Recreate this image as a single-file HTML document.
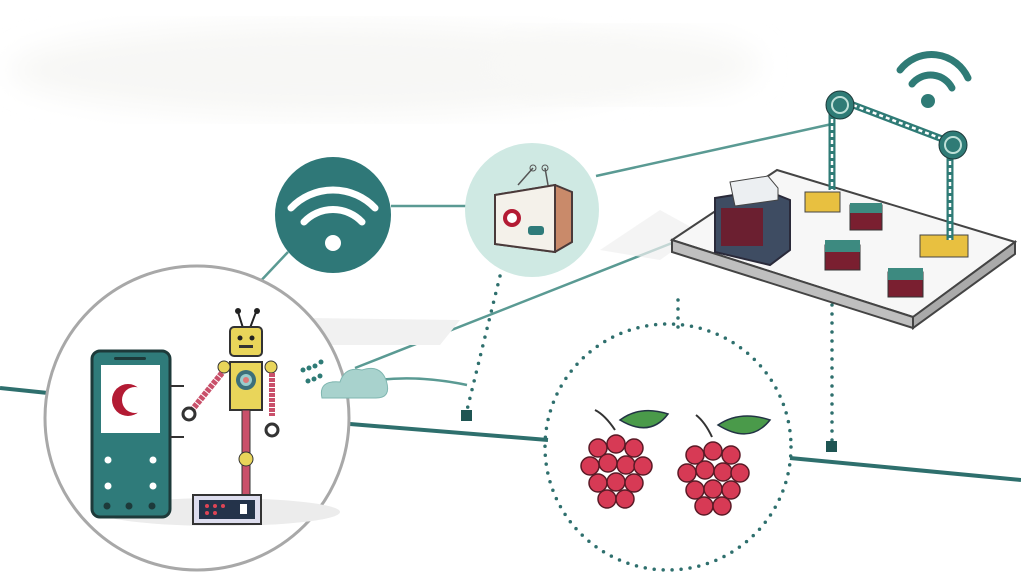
<!DOCTYPE html>
<html><head><style>html,body{margin:0;padding:0;background:#fff;overflow:hidden}svg{display:block}</style></head>
<body>
<svg width="1021" height="575" viewBox="0 0 1021 575" xmlns="http://www.w3.org/2000/svg">
<defs><filter id="b"><feGaussianBlur stdDeviation="14"/></filter></defs>
<rect width="1021" height="575" fill="#fff"/>
<ellipse cx="330" cy="70" rx="320" ry="45" fill="#f7f7f5" filter="url(#b)"/>
<ellipse cx="620" cy="65" rx="140" ry="35" fill="#f8f8f6" filter="url(#b)"/>
<!-- main line -->
<g stroke="#2e6f6d" stroke-width="4" fill="none">
<path d="M0 388 L48 393"/><path d="M350 424 L548 440"/><path d="M790 458 L1021 480"/>
</g>
<g stroke="#5a9a93" stroke-width="2.5" fill="none">
<path d="M255 287 L288 252"/><path d="M391 206 L466 206"/><path d="M596 176 L832 124"/>
<path d="M355 368 L700 232"/><path d="M378 380 Q420 375 467 385"/>
</g>
<polygon points="660,210 700,232 660,260 600,250" fill="#f0f0f0" opacity=".7"/>
<polygon points="310,318 460,320 440,345 330,345" fill="#f1f1f1"/>
<!-- dotted -->
<g stroke="#2e6f6d" stroke-width="3.5" stroke-linecap="round" stroke-dasharray="0 9" fill="none">
<path d="M500 276 L467 410"/><path d="M678 300 L678 332"/><path d="M832 305 L832 443"/>
<circle cx="668" cy="447" r="123"/>
</g>
<rect x="461" y="410" width="11" height="11" fill="#1f5553"/>
<rect x="826" y="441" width="11" height="11" fill="#1f5553"/>
<!-- left circle -->
<circle cx="197" cy="418" r="152" fill="#fff" stroke="#a8a8a8" stroke-width="3"/>
<ellipse cx="220" cy="512" rx="120" ry="14" fill="#ececec"/>
<!-- phone -->
<rect x="92" y="351" width="78" height="166" rx="8" fill="#2f7b7a" stroke="#1d3a3a" stroke-width="3"/>
<rect x="114" y="357" width="32" height="3" rx="1.5" fill="#1d3a3a"/>
<rect x="101" y="365" width="59" height="68" fill="#fff"/>
<circle cx="128" cy="400" r="16" fill="#b31b34"/><circle cx="135" cy="400" r="13" fill="#fff"/>
<g fill="#fff"><circle cx="108" cy="460" r="3.5"/><circle cx="153" cy="460" r="3.5"/><circle cx="108" cy="486" r="3.5"/><circle cx="153" cy="486" r="3.5"/></g>
<g fill="#1d3a3a"><circle cx="107" cy="506" r="3.5"/><circle cx="129" cy="506" r="3.5"/><circle cx="152" cy="506" r="3.5"/></g>
<path d="M170 386 H184 M170 437 H184" stroke="#333" stroke-width="2"/>
<!-- robot -->
<path d="M243 328 L238 312 M250 328 L256 312" stroke="#222" stroke-width="2"/>
<circle cx="238" cy="311" r="3" fill="#222"/><circle cx="257" cy="311" r="3" fill="#222"/>
<rect x="230" y="327" width="32" height="29" rx="4" fill="#e9d55a" stroke="#333" stroke-width="2"/>
<circle cx="240" cy="338" r="2.5" fill="#222"/><circle cx="252" cy="338" r="2.5" fill="#222"/>
<rect x="239" y="345" width="14" height="3" fill="#333"/>
<rect x="230" y="362" width="32" height="48" fill="#e9d55a" stroke="#333" stroke-width="2"/>
<circle cx="246" cy="380" r="10" fill="#3c6f7a"/><circle cx="246" cy="380" r="6" fill="#9cc"/><circle cx="246" cy="380" r="3" fill="#d77"/>
<circle cx="224" cy="367" r="6" fill="#e9d55a" stroke="#333"/><circle cx="271" cy="367" r="6" fill="#e9d55a" stroke="#333"/>
<path d="M222 373 L192 410" stroke="#c9506a" stroke-width="6" stroke-dasharray="4 1"/>
<path d="M272 373 L272 416" stroke="#c9506a" stroke-width="6" stroke-dasharray="4 1"/>
<circle cx="189" cy="414" r="6" fill="none" stroke="#333" stroke-width="3"/>
<circle cx="272" cy="430" r="6" fill="none" stroke="#333" stroke-width="3"/>
<rect x="242" y="410" width="8" height="85" fill="#c9506a" stroke="#333"/>
<circle cx="246" cy="459" r="7" fill="#e9d55a" stroke="#333"/>
<rect x="193" y="495" width="68" height="29" fill="#dde" stroke="#333" stroke-width="2"/>
<rect x="199" y="500" width="56" height="19" fill="#24334a"/>
<g fill="#d45"><circle cx="207" cy="506" r="2"/><circle cx="215" cy="506" r="2"/><circle cx="223" cy="506" r="2"/><circle cx="207" cy="513" r="2"/><circle cx="215" cy="513" r="2"/></g>
<rect x="240" y="504" width="7" height="10" fill="#fff"/>
<!-- cloud -->
<path d="M322 398 Q318 380 340 382 Q345 366 362 370 Q380 364 386 380 Q392 398 376 398 Z" fill="#a8d2cd" stroke="#7fb6b0"/>
<g fill="#2e7b76"><circle cx="303" cy="370" r="2.5"/><circle cx="309" cy="368" r="2.5"/><circle cx="315" cy="366" r="2.5"/><circle cx="321" cy="362" r="2.5"/><circle cx="308" cy="381" r="2.5"/><circle cx="314" cy="379" r="2.5"/><circle cx="320" cy="376" r="2.5"/></g>
<!-- wifi circle -->
<circle cx="333" cy="215" r="58" fill="#2f7878"/>
<g fill="none" stroke="#fff" stroke-width="7" stroke-linecap="round">
<path d="M291 208 A58 58 0 0 1 375 208"/><path d="M304 222 A40 40 0 0 1 362 222"/>
</g>
<circle cx="333" cy="243" r="8" fill="#fff"/>
<!-- box circle -->
<circle cx="532" cy="210" r="67" fill="#cfe9e3"/>
<path d="M518 185 L533 168 M548 185 L545 168" stroke="#555" stroke-width="1.5"/>
<circle cx="533" cy="168" r="3" fill="none" stroke="#555"/><circle cx="545" cy="168" r="3" fill="none" stroke="#555"/>
<polygon points="495,195 555,185 572,192 572,242 555,252 495,244" fill="#c98a6a" stroke="#4a3a3a" stroke-width="2"/>
<polygon points="495,195 555,185 555,252 495,244" fill="#f4f1ea" stroke="#4a3a3a" stroke-width="2"/>
<circle cx="512" cy="218" r="9" fill="#b31b34"/><circle cx="512" cy="218" r="5" fill="#fff"/>
<rect x="528" y="226" width="16" height="9" rx="3" fill="#2f7b7a"/>
<!-- platform -->
<polygon points="672,240 777,170 1015,242 913,317" fill="#f7f7f7" stroke="#444" stroke-width="2"/>
<polygon points="672,240 913,317 913,328 672,252" fill="#bfbfbf" stroke="#444" stroke-width="2"/>
<polygon points="913,317 1015,242 1015,254 913,328" fill="#aaa" stroke="#444" stroke-width="2"/>
<polygon points="715,198 765,190 790,200 790,250 770,265 715,252" fill="#3e4c62" stroke="#2a2a3a" stroke-width="2"/>
<rect x="721" y="208" width="42" height="38" fill="#6b1f30"/>
<polygon points="730,182 768,176 778,188 778,200 735,206" fill="#eceff2" stroke="#444"/>
<rect x="805" y="192" width="35" height="20" fill="#e8c040" stroke="#444"/>
<rect x="850" y="205" width="32" height="25" fill="#7a1f30" stroke="#333"/><rect x="850" y="203" width="32" height="10" fill="#3d8a80"/>
<rect x="825" y="245" width="35" height="25" fill="#7a1f30" stroke="#333"/><rect x="825" y="240" width="35" height="12" fill="#3d8a80"/>
<rect x="888" y="272" width="35" height="25" fill="#7a1f30" stroke="#333"/><rect x="888" y="268" width="35" height="12" fill="#3d8a80"/>
<rect x="920" y="235" width="48" height="22" fill="#e8c040" stroke="#444"/>
<g stroke="#2f7b76" stroke-width="7" fill="none"><path d="M832 105 L832 190 M950 140 L950 240 M840 100 L945 140"/></g>
<g stroke="#fff" stroke-width="2.5" stroke-dasharray="4 3" fill="none"><path d="M832 105 L832 190 M950 140 L950 240 M840 100 L945 140"/></g>
<circle cx="840" cy="105" r="14" fill="#2f7b76" stroke="#1d3a3a"/><circle cx="840" cy="105" r="8" fill="none" stroke="#bfe0d8" stroke-width="2"/>
<circle cx="953" cy="145" r="14" fill="#2f7b76" stroke="#1d3a3a"/><circle cx="953" cy="145" r="8" fill="none" stroke="#bfe0d8" stroke-width="2"/>
<!-- wifi top right -->
<g fill="none" stroke="#2f7b76" stroke-width="7" stroke-linecap="round">
<path d="M900 70 A40 40 0 0 1 968 78"/><path d="M912 84 A24 24 0 0 1 952 88"/>
</g>
<circle cx="928" cy="101" r="7" fill="#2f7b76"/>
<!-- raspberries -->
<g>
<path d="M620 420 Q640 405 668 414 Q650 438 620 420Z" fill="#4a9a4a" stroke="#234" stroke-width="1.5"/>
<path d="M615 430 Q605 415 595 410" stroke="#333" stroke-width="2" fill="none"/>
<g fill="#d73a55" stroke="#5a1a26" stroke-width="1.5">
<circle cx="598" cy="448" r="9"/><circle cx="616" cy="444" r="9"/><circle cx="634" cy="448" r="9"/>
<circle cx="590" cy="466" r="9"/><circle cx="608" cy="463" r="9"/><circle cx="626" cy="465" r="9"/><circle cx="643" cy="466" r="9"/>
<circle cx="598" cy="483" r="9"/><circle cx="616" cy="482" r="9"/><circle cx="634" cy="483" r="9"/>
<circle cx="607" cy="499" r="9"/><circle cx="625" cy="499" r="9"/>
</g>
<path d="M718 425 Q740 410 770 420 Q750 445 718 425Z" fill="#4a9a4a" stroke="#234" stroke-width="1.5"/>
<path d="M712 437 Q705 422 696 415" stroke="#333" stroke-width="2" fill="none"/>
<g fill="#d73a55" stroke="#5a1a26" stroke-width="1.5">
<circle cx="695" cy="455" r="9"/><circle cx="713" cy="451" r="9"/><circle cx="731" cy="455" r="9"/>
<circle cx="687" cy="473" r="9"/><circle cx="705" cy="470" r="9"/><circle cx="723" cy="472" r="9"/><circle cx="740" cy="473" r="9"/>
<circle cx="695" cy="490" r="9"/><circle cx="713" cy="489" r="9"/><circle cx="731" cy="490" r="9"/>
<circle cx="704" cy="506" r="9"/><circle cx="722" cy="506" r="9"/>
</g>
</g>
</svg>
</body></html>
